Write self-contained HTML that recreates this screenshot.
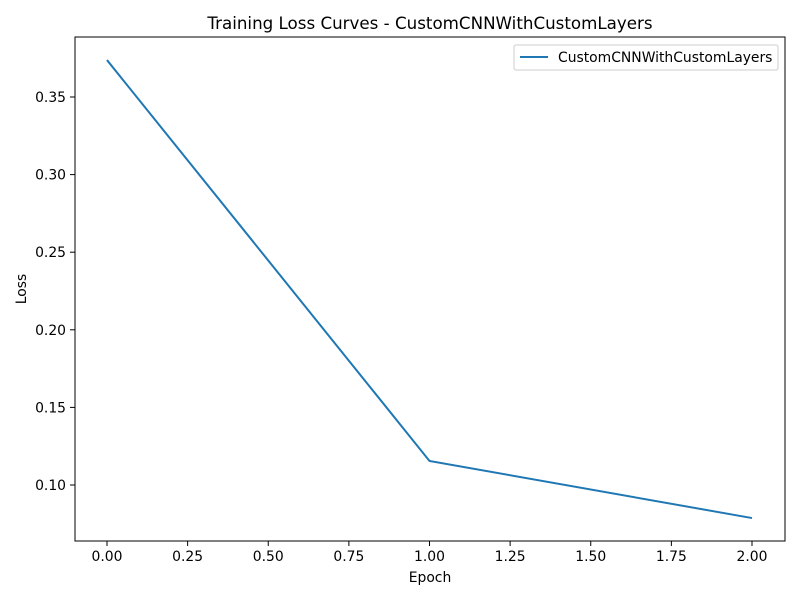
<!DOCTYPE html>
<html><head><meta charset="utf-8"><style>
body{margin:0;background:#fff}
svg text{font-family:"DejaVu Sans","Liberation Sans",sans-serif;fill:#000}
</style></head><body>
<svg id="chart" width="800" height="600" xmlns="http://www.w3.org/2000/svg">
<rect width="800" height="600" fill="#fff"/>
<text x="430" y="29" font-size="16.7" text-anchor="middle">Training Loss Curves - CustomCNNWithCustomLayers</text>
<g id="xt"></g><g id="yt"></g>
<polyline id="line" fill="none" stroke="#1f77b4" stroke-width="2"/>
<rect x="75" y="37" width="710" height="504" fill="none" stroke="#000" stroke-width="1"/>
<text x="430" y="582" font-size="13.9" text-anchor="middle">Epoch</text>
<text x="26" y="289" font-size="13.9" text-anchor="middle" transform="rotate(-90 26 289)">Loss</text>
<g>
<rect x="514" y="45" width="264" height="25" rx="2" fill="#fff" stroke="#ccc" stroke-width="1"/>
<line x1="520" y1="57" x2="548" y2="57" stroke="#1f77b4" stroke-width="2"/>
<text x="558" y="62" font-size="13.9">CustomCNNWithCustomLayers</text>
</g>
</svg>
<script>
const epochs=[0,1,2];
const losses=[0.3738,0.1155,0.0787];
const xTicks=[0,0.25,0.5,0.75,1,1.25,1.5,1.75,2];
const yTicks=[0.10,0.15,0.20,0.25,0.30,0.35];
const NS="http://www.w3.org/2000/svg";
function xs(v){return 107+v*322.5;}
function ys(v){return 485-(v-0.10)*1552;}
const xt=document.getElementById('xt'),yt=document.getElementById('yt');
xTicks.forEach(t=>{
 const l=document.createElementNS(NS,'line');
 l.setAttribute('x1',xs(t));l.setAttribute('x2',xs(t));l.setAttribute('y1',541);l.setAttribute('y2',546);l.setAttribute('stroke','#000');l.setAttribute('stroke-width','1');
 
 
 xt.appendChild(l);
 const tx=document.createElementNS(NS,'text');
 tx.setAttribute('x',xs(t));tx.setAttribute('y',561);tx.setAttribute('font-size','13.9');tx.setAttribute('text-anchor','middle');
 tx.textContent=t.toFixed(2);
 
 
 xt.appendChild(tx);
});
yTicks.forEach(t=>{
 const l=document.createElementNS(NS,'line');
 l.setAttribute('x1',70);l.setAttribute('x2',75);l.setAttribute('y1',ys(t));l.setAttribute('y2',ys(t));l.setAttribute('stroke','#000');l.setAttribute('stroke-width','1');
 
 
 yt.appendChild(l);
 const tx=document.createElementNS(NS,'text');
 tx.setAttribute('x',66);tx.setAttribute('y',ys(t)+5);tx.setAttribute('font-size','13.9');tx.setAttribute('text-anchor','end');
 tx.textContent=t.toFixed(2);
 
 
 yt.appendChild(tx);
});
document.getElementById('line').setAttribute('points',epochs.map((e,i)=>xs(e)+','+ys(losses[i])).join(' '));
</script>
</body></html>
